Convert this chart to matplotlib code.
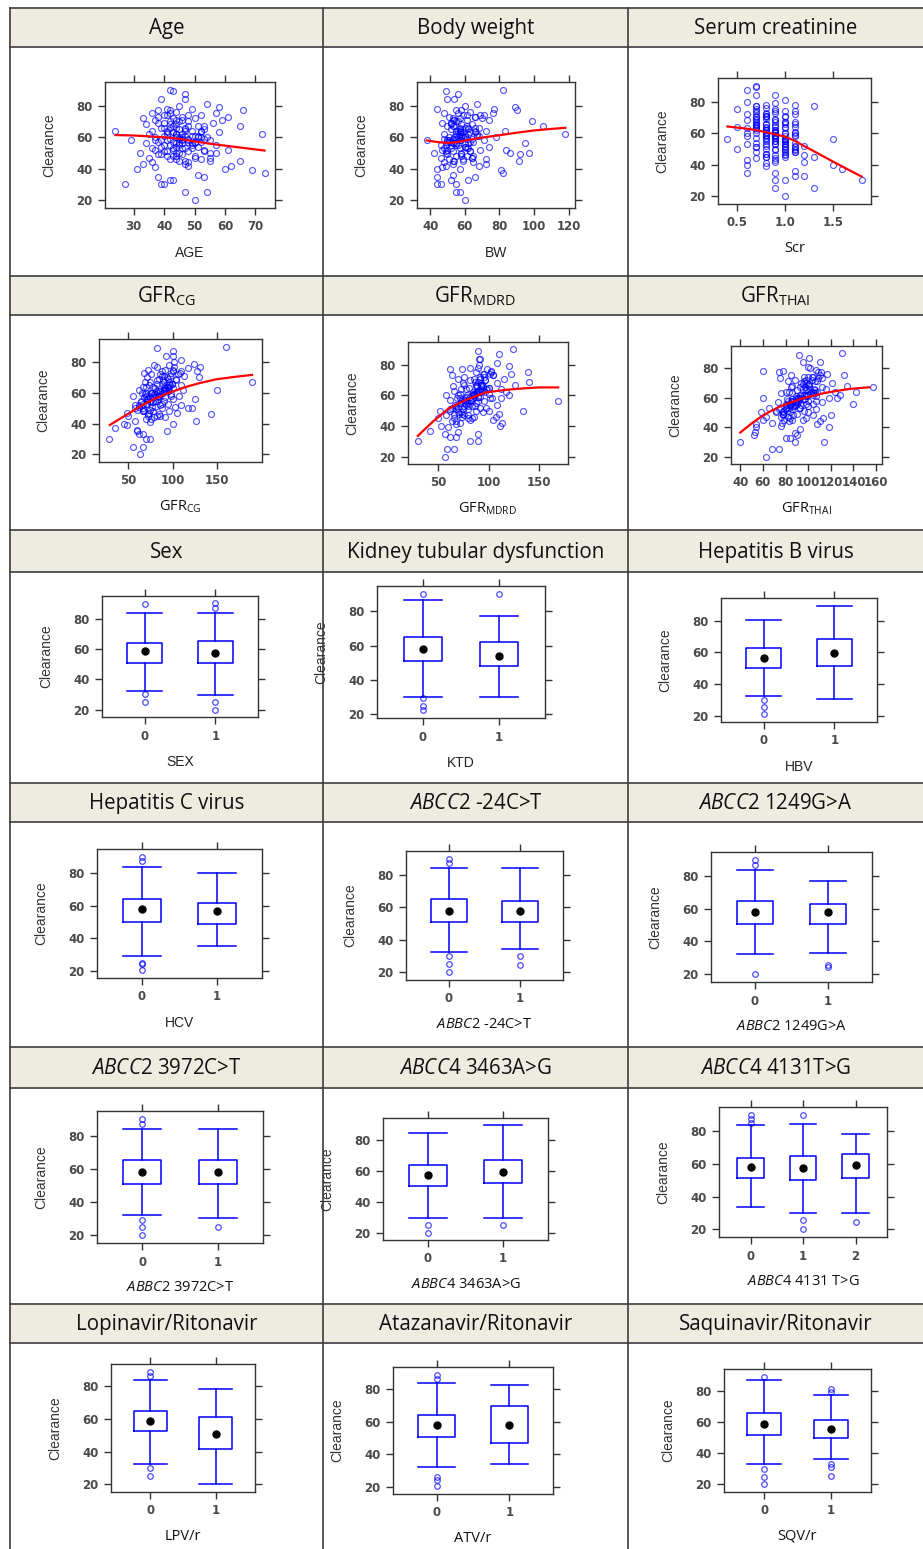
import numpy as np
import matplotlib.pyplot as plt
from matplotlib.patches import Rectangle

W, H = 923, 1549

# clearance and covariates, one entry per patient
CL = [20, 25, 25, 30, 30, 30, 33, 33, 35, 35,
      36, 37, 39, 40, 40, 41, 42, 42, 43, 44,
      45, 45, 46, 46, 47, 47, 48, 48, 49, 49,
      50, 50, 50, 51, 51, 52, 52, 52, 53, 53,
      54, 54, 50, 55, 55, 56, 56, 56, 57, 57,
      58, 58, 58, 59, 59, 60, 60, 60, 61, 61,
      62, 62, 62, 63, 63, 64, 64, 64, 65, 65,
      66, 66, 67, 67, 68, 68, 69, 70, 70, 71,
      71, 72, 72, 73, 73, 74, 74, 75, 75, 76,
      77, 77, 78, 78, 79, 80, 81, 84, 84, 87,
      89, 90, 57, 61, 55, 63, 59, 66, 53, 69,
      48, 60, 64, 56, 71, 51, 74, 58, 45, 67,
      55, 62, 58, 66, 49, 71, 60, 53, 64, 57,
      69, 46, 61, 75, 52, 59, 67, 44, 63, 56,
      72, 50, 58, 65, 61, 54, 68, 47, 60, 73,
      57, 63, 51, 70, 59, 66, 45, 62, 55, 77,
      53, 64, 58, 48, 67, 60, 74, 56, 62, 43]
AGE = [50, 47, 54, 27, 39, 40, 42, 43, 38, 53,
       51, 73, 69, 31, 60, 37, 48, 62, 33, 36,
       65, 45, 52, 42, 35, 55, 41, 50, 38, 46,
       32, 57, 44, 48, 40, 53, 43, 61, 36, 47,
       51, 39, 45, 57, 42, 34, 49, 44, 38, 52,
       29, 46, 55, 42, 48, 37, 44, 54, 40, 50,
       72, 46, 35, 43, 58, 49, 41, 24, 53, 45,
       39, 47, 65, 51, 34, 44, 56, 42, 48, 37,
       59, 50, 33, 61, 46, 40, 52, 36, 57, 44,
       66, 38, 49, 41, 58, 45, 54, 39, 47, 47,
       43, 42, 43, 47, 40, 52, 45, 42, 49, 38,
       44, 51, 36, 46, 44, 53, 48, 41, 55, 43,
       45, 41, 48, 44, 39, 46, 52, 43, 47, 50,
       40, 44, 49, 42, 37, 46, 53, 48, 41, 45,
       43, 55, 39, 47, 51, 44, 42, 50, 46, 38,
       48, 43, 41, 45, 53, 40, 47, 44, 49, 42,
       46, 52, 37, 43, 48, 45, 41, 50, 44, 47]
BW = [60, 57, 55, 44, 55, 46, 52, 62, 44, 66,
      53, 82, 81, 44, 57, 47, 68, 49, 53, 48,
      91, 59, 72, 51, 64, 46, 61, 55, 92, 50,
      97, 58, 42, 63, 53, 69, 47, 84, 57, 52,
      60, 74, 86, 56, 49, 62, 54, 95, 65, 50,
      38, 58, 71, 53, 64, 78, 56, 51, 60, 67,
      55, 48, 118, 59, 66, 55, 83, 72, 57, 52,
      62, 68, 105, 50, 58, 64, 47, 99, 56, 61,
      74, 53, 57, 66, 51, 69, 59, 76, 48, 63,
      90, 55, 44, 77, 89, 60, 67, 54, 50, 56,
      49, 82, 52, 58, 46, 63, 55, 57, 61, 52,
      58, 54, 66, 60, 53, 49, 71, 50, 53, 61,
      55, 62, 51, 66, 58, 54, 60, 48, 57, 63,
      52, 59, 68, 56, 50, 61, 54, 65, 58, 53,
      70, 49, 57, 62, 55, 60, 52, 64, 58, 66,
      51, 57, 63, 55, 48, 60, 54, 67, 52, 58,
      62, 56, 50, 65, 53, 59, 61, 55, 57, 72]
SCR = [1.0, 0.9, 1.3, 1.8, 1.0, 0.9, 1.1, 1.2, 0.6, 0.9,
       1.1, 1.6, 0.8, 1.5, 0.6, 0.8, 0.9, 1.2, 0.6, 0.7,
       1.3, 1.0, 1.2, 0.9, 0.8, 1.0, 0.7, 1.1, 0.9, 1.0,
       0.5, 0.8, 0.9, 1.1, 0.7, 1.0, 0.8, 1.2, 0.9, 0.6,
       1.1, 0.7, 1.0, 0.8, 0.9, 0.4, 1.0, 1.5, 0.7, 0.9,
       0.8, 1.1, 0.6, 0.9, 0.8, 1.0, 0.7, 1.0, 0.9, 1.1,
       0.8, 0.7, 0.9, 1.0, 0.6, 0.8, 1.1, 0.5, 0.9, 0.7,
       1.0, 0.8, 0.9, 1.1, 0.7, 0.6, 0.9, 0.8, 1.0, 0.7,
       0.8, 1.1, 0.6, 0.9, 0.8, 0.7, 1.0, 0.9, 0.5, 0.8,
       1.3, 0.7, 1.1, 0.8, 0.9, 0.6, 1.0, 0.7, 0.9, 0.6,
       0.7, 0.7, 0.8, 0.9, 1.0, 0.7, 1.1, 0.8, 0.9, 0.7,
       1.0, 0.6, 0.9, 0.8, 1.0, 0.7, 1.1, 0.9, 0.8, 1.0,
       0.9, 0.8, 1.0, 0.7, 1.1, 0.8, 0.9, 1.0, 0.7, 0.9,
       0.8, 1.0, 0.9, 0.7, 1.1, 0.8, 1.0, 0.9, 0.7, 1.0,
       0.8, 1.1, 0.9, 0.7, 0.8, 1.0, 0.9, 0.8, 1.1, 0.7,
       0.9, 0.8, 1.0, 0.7, 0.9, 1.1, 0.8, 0.9, 1.0, 0.7,
       0.8, 1.0, 0.9, 1.1, 0.7, 0.8, 0.9, 1.0, 0.8, 0.9]
GFR_CG = [63, 55, 66, 28, 70, 74, 67, 62, 60, 94,
          60, 35, 48, 45, 100, 75, 57, 126, 70, 92,
          82, 50, 143, 85, 48, 105, 78, 96, 60, 74,
          122, 88, 67, 80, 103, 58, 86, 110, 71, 95,
          78, 64, 118, 90, 82, 100, 72, 125, 92, 68,
          85, 55, 107, 79, 98, 76, 89, 70, 95, 84,
          62, 112, 150, 101, 80, 78, 90, 66, 109, 73,
          88, 96, 190, 69, 104, 82, 95, 130, 71, 113,
          90, 86, 76, 98, 68, 109, 128, 91, 72, 117,
          131, 82, 96, 79, 124, 102, 110, 93, 100, 101,
          82, 160, 75, 86, 64, 92, 80, 99, 70, 104,
          66, 77, 95, 84, 97, 62, 88, 73, 72, 90,
          80, 92, 70, 99, 68, 88, 76, 66, 95, 84,
          85, 72, 90, 101, 62, 87, 74, 79, 96, 71,
          106, 58, 83, 97, 81, 75, 89, 73, 65, 108,
          78, 91, 77, 94, 69, 82, 86, 93, 74, 102,
          88, 70, 98, 67, 96, 83, 100, 72, 90, 76]
GFR_MDRD = [57, 59, 66, 30, 82, 90, 62, 68, 57, 90,
            70, 42, 60, 53, 111, 68, 72, 113, 64, 104,
            50, 80, 107, 86, 58, 76, 66, 110, 95, 73,
            52, 88, 100, 80, 62, 92, 70, 98, 84, 76,
            67, 108, 134, 88, 73, 169, 90, 96, 62, 82,
            103, 69, 112, 78, 92, 86, 58, 120, 100, 72,
            97, 85, 117, 90, 66, 92, 112, 78, 100, 81,
            65, 93, 126, 88, 108, 75, 140, 97, 82, 70,
            115, 92, 76, 104, 64, 96, 122, 88, 139, 102,
            74, 62, 90, 82, 120, 91, 108, 92, 91, 110,
            90, 124, 76, 85, 72, 95, 90, 89, 80, 87,
            74, 79, 99, 83, 86, 68, 101, 77, 84, 93,
            80, 88, 72, 95, 70, 92, 84, 68, 98, 78,
            90, 74, 86, 102, 64, 90, 76, 82, 94, 73,
            96, 62, 85, 100, 88, 78, 93, 80, 70, 104,
            83, 91, 75, 97, 82, 88, 66, 92, 77, 99,
            87, 73, 101, 71, 94, 86, 95, 79, 89, 68]
GFR_THAI = [63, 68, 74, 40, 114, 88, 84, 80, 52, 90,
            88, 53, 93, 54, 118, 76, 54, 108, 68, 110,
            60, 86, 113, 98, 63, 82, 120, 104, 78, 90,
            58, 84, 100, 96, 72, 86, 107, 80, 92, 65,
            100, 88, 78, 94, 84, 140, 104, 98, 112, 73,
            90, 85, 100, 81, 96, 60, 118, 125, 89, 107,
            104, 93, 128, 86, 76, 124, 80, 142, 98, 90,
            102, 116, 157, 93, 134, 86, 101, 94, 121, 82,
            106, 88, 98, 112, 75, 103, 96, 132, 85, 117,
            74, 109, 60, 78, 107, 102, 100, 110, 95, 101,
            92, 130, 88, 97, 80, 106, 92, 99, 83, 95,
            87, 93, 104, 90, 108, 78, 100, 86, 95, 112,
            88, 98, 82, 105, 78, 96, 90, 80, 108, 86,
            100, 84, 94, 110, 74, 97, 85, 83, 104, 80,
            103, 72, 92, 106, 99, 87, 101, 76, 91, 109,
            89, 102, 81, 98, 86, 95, 79, 100, 84, 111,
            93, 83, 107, 78, 97, 91, 104, 85, 96, 77]

# loess smoothers
AGE_FIT_X = [24, 30, 35, 40, 45, 50, 55, 60, 65, 70, 73]
AGE_FIT_Y = [61.3, 61.0, 60.5, 59.9, 58.9, 57.3, 55.8, 54.6, 53.4, 52.2, 51.5]
BW_FIT_X = [38, 44, 50, 55, 60, 70, 80, 90, 100, 110, 118]
BW_FIT_Y = [57.9, 56.9, 56.3, 56.7, 57.8, 59.7, 61.2, 62.8, 64.2, 65.2, 65.9]
SCR_FIT_X = [0.4, 0.5, 0.6, 0.7, 0.8, 0.9, 1.0, 1.1, 1.2, 1.3, 1.4, 1.5, 1.6, 1.7, 1.8]
SCR_FIT_Y = [64.2, 63.5, 62.8, 61.9, 60.6, 59.2, 57.8, 55.2, 51.8, 48.6, 45.3, 42.0, 38.8, 35.6, 32.5]
CG_FIT_X = [29, 40, 55, 65, 75, 93, 115, 130, 149, 170, 190]
CG_FIT_Y = [39.1, 43.0, 48.2, 51.8, 54.8, 59.4, 63.8, 66.2, 68.7, 70.3, 71.6]
MDRD_FIT_X = [30, 45, 61, 78, 97, 117, 135, 150, 169]
MDRD_FIT_Y = [33.5, 42.9, 51.6, 57.1, 61.9, 63.6, 64.6, 65.2, 65.2]
THAI_FIT_X = [40, 50, 58, 66, 75, 85, 94, 104, 114, 125, 137, 154]
THAI_FIT_Y = [36.4, 42.5, 46.9, 50.5, 54.0, 56.8, 59.2, 61.2, 63.0, 64.5, 65.9, 67.0]

# box plot summaries: (lower whisker, q1, median, q3, upper whisker, outliers)
SEX_BOX = [(32.4, 50.7, 58.7, 63.7, 83.7, [89.8, 30.2, 25.2]),
           (29.8, 50.7, 57.4, 65.2, 84.1, [90.2, 87.4, 24.8, 20.0])]
KTD_BOX = [(30.0, 51.0, 58.0, 65.0, 86.5, [90.0, 29.5, 25.0, 22.5]),
           (30.0, 48.0, 54.0, 62.0, 77.0, [90.0])]
HBV_BOX = [(32.8, 50.1, 56.6, 62.7, 80.4, [30.1, 25.7, 21.0]),
           (31.0, 51.2, 59.8, 68.2, 89.5, [])]
HCV_BOX = [(29.0, 50.0, 58.0, 64.0, 84.0, [90.0, 87.5, 25.0, 24.0, 20.5]),
           (35.0, 49.0, 57.0, 62.0, 80.0, [])]
C2_24_BOX = [(32.3, 50.8, 58.0, 65.2, 84.1, [89.9, 87.2, 29.9, 25.1, 20.0]),
             (34.0, 50.8, 58.0, 64.0, 84.1, [29.9, 24.5])]
C2_1249_BOX = [(32.0, 51.0, 58.0, 65.0, 84.0, [90.0, 87.0, 20.0]),
               (33.0, 51.0, 58.0, 63.0, 77.0, [25.5, 24.5])]
C2_3972_BOX = [(32.0, 51.0, 58.0, 65.0, 84.0, [90.0, 87.0, 29.0, 25.0, 20.0]),
               (30.0, 51.0, 58.0, 65.0, 84.0, [25.0])]
C4_3463_BOX = [(30.0, 50.0, 57.0, 64.0, 84.0, [25.0, 20.5]),
               (30.0, 52.0, 59.0, 67.0, 89.0, [25.0])]
C4_4131_BOX = [(33.9, 51.2, 58.2, 63.7, 83.5, [89.8, 87.3, 84.7]),
               (29.8, 50.2, 57.3, 64.5, 84.1, [89.6, 25.5, 20.2]),
               (29.8, 51.2, 59.0, 66.1, 78.2, [24.7])]
LPV_BOX = [(32.5, 52.3, 58.5, 65.0, 84.0, [88.8, 86.3, 30.0, 25.2]),
           (20.0, 41.3, 50.8, 61.0, 78.3, [])]
ATV_BOX = [(32.0, 51.0, 58.0, 64.0, 84.0, [89.0, 86.5, 26.0, 24.5, 20.5]),
           (34.0, 47.0, 58.0, 70.0, 83.0, [])]
SQV_BOX = [(32.9, 51.6, 58.7, 65.6, 86.7, [89.2, 29.9, 24.7, 20.0]),
           (36.3, 50.1, 55.3, 61.1, 77.4, [81.3, 79.4, 33.3, 31.2, 25.2])]

HEADERS = ['Age', 'Body weight', 'Serum creatinine',
           r'GFR$_{\mathrm{CG}}$', r'GFR$_{\mathrm{MDRD}}$', r'GFR$_{\mathrm{THAI}}$',
           'Sex', 'Kidney tubular dysfunction', 'Hepatitis B virus',
           'Hepatitis C virus', r'$\mathit{ABCC2}$ -24C>T', r'$\mathit{ABCC2}$ 1249G>A',
           r'$\mathit{ABCC2}$ 3972C>T', r'$\mathit{ABCC4}$ 3463A>G', r'$\mathit{ABCC4}$ 4131T>G',
           'Lopinavir/Ritonavir', 'Atazanavir/Ritonavir', 'Saquinavir/Ritonavir']
XLABELS = ['AGE', 'BW', 'Scr',
           r'GFR$_{\mathrm{CG}}$', r'GFR$_{\mathrm{MDRD}}$', r'GFR$_{\mathrm{THAI}}$',
           'SEX', 'KTD', 'HBV',
           'HCV', r'$\mathit{ABBC2}$ -24C>T', r'$\mathit{ABBC2}$ 1249G>A',
           r'$\mathit{ABBC2}$ 3972C>T', r'$\mathit{ABBC4}$ 3463A>G', r'$\mathit{ABBC4}$ 4131 T>G',
           'LPV/r', 'ATV/r', 'SQV/r']
ARIAL_LABELS = ['AGE', 'BW', 'SEX', 'KTD', 'HBV', 'HCV']

SCATTERS = [(AGE, AGE_FIT_X, AGE_FIT_Y, [30, 40, 50, 60, 70], None),
            (BW, BW_FIT_X, BW_FIT_Y, [40, 60, 80, 100, 120], None),
            (SCR, SCR_FIT_X, SCR_FIT_Y, [0.5, 1.0, 1.5], ['0.5', '1.0', '1.5']),
            (GFR_CG, CG_FIT_X, CG_FIT_Y, [50, 100, 150], None),
            (GFR_MDRD, MDRD_FIT_X, MDRD_FIT_Y, [50, 100, 150], None),
            (GFR_THAI, THAI_FIT_X, THAI_FIT_Y, [40, 60, 80, 100, 120, 140, 160], None)]
BOXES = [SEX_BOX, KTD_BOX, HBV_BOX, HCV_BOX, C2_24_BOX, C2_1249_BOX,
         C2_3972_BOX, C4_3463_BOX, C4_4131_BOX, LPV_BOX, ATV_BOX, SQV_BOX]

# ---- layout (pixels) ----
ROW_TOP = [8, 276, 530, 783, 1047, 1304]
HEAD_BOT = [47, 315, 572, 822, 1088, 1343]
COL_X = [10, 323, 628, W]
PANELS = [(105, 82, 275, 208), (417, 82, 575, 208), (718, 78, 871, 204),
          (99, 339, 262, 462), (408, 342, 568, 464), (731, 346, 882, 464),
          (102, 596, 258, 717), (377, 586, 545, 718), (721, 598, 877, 722),
          (97, 849, 262, 978), (406, 851, 563, 980), (711, 852, 872, 982),
          (97, 1111, 263, 1243), (383, 1118, 548, 1240), (719, 1107, 887, 1237),
          (111, 1364, 255, 1492), (393, 1367, 553, 1494), (724, 1369, 871, 1492)]

HEAD_BG = '#eeece1'
GRID = '#3c3c3c'
BLUE = '#0000ff'
TICKC = '#4a4a4a'

plt.rcParams['mathtext.fontset'] = 'custom'
plt.rcParams['mathtext.rm'] = 'Open Sans'
plt.rcParams['mathtext.it'] = 'Open Sans:italic'
plt.rcParams['mathtext.bf'] = 'Open Sans:bold'

fig = plt.figure(figsize=(W / 100, H / 100), dpi=100)
bg = fig.add_axes([0, 0, 1, 1])
bg.set_xlim(0, W)
bg.set_ylim(H, 0)
bg.axis('off')

for top, hb in zip(ROW_TOP, HEAD_BOT):
    bg.add_patch(Rectangle((COL_X[0], top), W - COL_X[0], hb - top, fc=HEAD_BG, ec='none'))
    bg.plot([COL_X[0], W], [top, top], color=GRID, lw=1.2)
    bg.plot([COL_X[0], W], [hb, hb], color=GRID, lw=1.2)
for cx in COL_X[:3]:
    bg.plot([cx, cx], [ROW_TOP[0], H], color=GRID, lw=1.2)

for i, title in enumerate(HEADERS):
    r, c = divmod(i, 3)
    cx = (COL_X[c] + COL_X[c + 1]) / 2
    cy = (ROW_TOP[r] + HEAD_BOT[r]) / 2
    bg.text(cx, cy + 1, title, ha='center', va='center', fontsize=14.8,
            family='Open Sans', color='#111111')


def make_ax(box):
    x0, y0, x1, y1 = box
    ax = fig.add_axes([x0 / W, 1 - y1 / H, (x1 - x0) / W, (y1 - y0) / H])
    for s in ax.spines.values():
        s.set_color('#333333')
        s.set_linewidth(1.0)
    ax.tick_params(direction='out', length=5, width=1.0, color='#333333',
                   top=True, right=True, labeltop=False, labelright=False,
                   labelsize=8.5, labelcolor=TICKC, pad=4)
    ax.set_ylabel('Clearance', fontsize=10, family='Liberation Sans',
                  color='#333333', labelpad=14)
    return ax


def pad(lo, hi):
    d = (hi - lo) * 0.07
    return lo - d, hi + d


def set_xlabel(ax, text):
    if text in ARIAL_LABELS:
        ax.set_xlabel(text, fontsize=10, family='Liberation Sans', color='#222222', labelpad=9)
    else:
        ax.set_xlabel(text, fontsize=10.5, family='Open Sans', color='#111111', labelpad=8)


def bold_ticks(ax):
    for lab in ax.get_xticklabels() + ax.get_yticklabels():
        lab.set_fontweight('bold')


yticks = [20, 40, 60, 80]

for i, (xs, fx, fy, xt, xtl) in enumerate(SCATTERS):
    ax = make_ax(PANELS[i])
    ax.plot(xs, CL, 'o', mfc='none', mec=BLUE, alpha=0.65, ms=4.3, mew=0.85)
    ax.plot(fx, fy, '-', color='red', lw=1.6)
    ax.set_xlim(*pad(min(xs), max(xs)))
    ax.set_ylim(*pad(min(CL), max(CL)))
    ax.set_xticks(xt)
    if xtl:
        ax.set_xticklabels(xtl)
    ax.set_yticks(yticks)
    bold_ticks(ax)
    set_xlabel(ax, XLABELS[i])

for j, groups in enumerate(BOXES):
    i = j + 6
    ax = make_ax(PANELS[i])
    stats = []
    allv = []
    for g in groups:
        lo, q1, med, q3, hi, fl = g
        stats.append(dict(whislo=lo, q1=q1, med=med, q3=q3, whishi=hi, fliers=fl))
        allv += [lo, hi] + fl
    pos = list(range(len(groups)))
    ax.bxp(stats, positions=pos, widths=0.5, capwidths=0.5, showfliers=True,
           boxprops=dict(color=BLUE, lw=1.1),
           whiskerprops=dict(color=BLUE, lw=1.1),
           capprops=dict(color=BLUE, lw=1.1),
           medianprops=dict(visible=False),
           flierprops=dict(marker='o', mfc='none', mec=BLUE, ms=4.0, mew=0.9, alpha=0.7))
    ax.plot(pos, [s['med'] for s in stats], 'o', color='black', ms=5, zorder=5)
    ax.set_xlim(-0.6, len(groups) - 0.4)
    ax.set_ylim(*pad(min(allv), max(allv)))
    ax.set_xticks(pos)
    ax.set_xticklabels([str(p) for p in pos])
    ax.set_yticks(yticks)
    bold_ticks(ax)
    set_xlabel(ax, XLABELS[i])

fig.savefig('out.png', dpi=100)
